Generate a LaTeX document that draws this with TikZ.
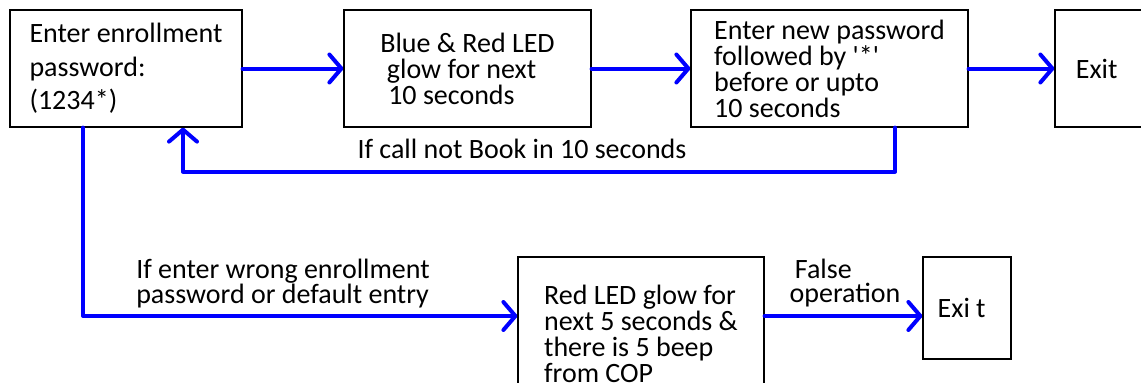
\documentclass[tikz,border=0pt]{standalone}
\usepackage{fontspec}
\setmainfont{Carlito}
\usetikzlibrary{arrows.meta,calc}

\begin{document}
\begin{tikzpicture}[x=0.75pt,y=-0.75pt,>={Straight Barb[length=9pt,width=21pt,round]},font=\fontsize{21}{19.5}\selectfont]
\tikzstyle{box}=[draw,line width=0.9pt,align=left,inner sep=0pt]
\tikzstyle{flow}=[->,draw=blue,line width=3pt,line cap=round,line join=round]
\tikzstyle{lbl}=[align=left,inner sep=0pt,font=\fontsize{21}{18}\selectfont]
\useasboundingbox (0,0) rectangle (1141,382);
\clip (0,0) rectangle (1141,382);
% top row
\node[box,minimum width=174pt,minimum height=87.75pt,font=\fontsize{21}{25}\selectfont] (enroll) at (126,68.5) {Enter enrollment\\password:\\(1234*)};
\node[box,minimum width=185.25pt,minimum height=87.75pt] (glow) at (467.5,68.5) {Blue \& Red LED\\\hspace*{5pt}glow for next\\\hspace*{6pt}10 seconds};
\node[box,minimum width=207.75pt,minimum height=87.75pt] (newpw) at (829.5,68.5) {Enter new password\\followed by \textquotesingle*\textquotesingle\\before or upto\\10 seconds};
\node[box,minimum width=70.5pt,minimum height=87.75pt] (exitA) at (1102,68.5) {Exit\hspace*{8pt}};
% bottom row
\node[box,minimum width=184.5pt,minimum height=114.75pt] (redled) at (641,333.5) {Red LED glow for\\next 5 seconds \&\hspace*{12pt}\\there is 5 beep\\from COP};
\node[box,minimum width=66pt,minimum height=76.5pt] (exitB) at (967,308) {Exi t\hspace*{8pt}};
\coordinate (lowrow) at (0,316);
% labels
\node[lbl] (lblbook) at (522,149) {If call not Book in 10 seconds};
\node[lbl] (lblwrong) at (283,283.5) {If enter wrong enrollment\\password or default entry};
\node[lbl] (lblfalse) at (845,283) {\hspace*{4pt}False\\operation};
% connectors
\draw[flow] (enroll) -- (glow);
\draw[flow] (glow) -- (newpw);
\draw[flow] (newpw) -- (exitA);
\draw[flow] ($(newpw.south)+(65.5,0)$) -- ++(0,44) -| ($(enroll.south)+(57,0)$);
\draw[flow] ($(enroll.south)+(-43,0)$) |- (redled.west |- lowrow);
\draw[flow] (redled.east |- lowrow) -- (exitB.west |- lowrow);
\end{tikzpicture}
\end{document}
